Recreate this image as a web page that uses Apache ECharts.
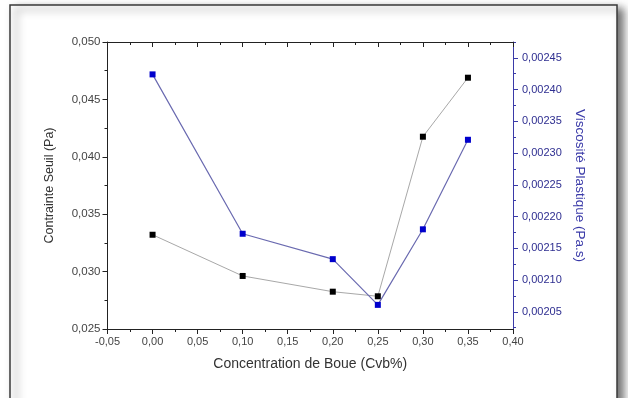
<!DOCTYPE html>
<html>
<head>
<meta charset="utf-8">
<script src="https://cdn.jsdelivr.net/npm/echarts@6/dist/echarts.min.js"></script>
<style>
  html, body { margin: 0; padding: 0; background: #fff; }
  #chart { width: 628px; height: 398px; }
</style>
</head>
<body>
<div id="chart"></div>
<script>
// Concentration de boue (Cvb%)
const concentration = [0.0, 0.10, 0.20, 0.25, 0.30, 0.35];
// Contrainte seuil (Pa), left axis
const contrainteSeuil = [0.03321, 0.02962, 0.02825, 0.02785, 0.04175, 0.04689];
// Viscosite plastique (Pa.s), right axis
const viscosite = [0.002424, 0.002173, 0.002133, 0.002061, 0.00218, 0.002321];
// Right axis tick labels
const viscoTicks = [0.00205, 0.00210, 0.00215, 0.00220, 0.00225, 0.00230, 0.00235, 0.00240, 0.00245];
const viscoMinor = [0.002025, 0.002075, 0.002125, 0.002175, 0.002225, 0.002275, 0.002325, 0.002375, 0.002425, 0.002475];

const FONT = "Liberation Sans";
const BLUE_AXIS = "#3a3aa8";
const VISCO_MIN = 0.002023;
const VISCO_MAX = 0.002475;
const comma = (v, d) => v.toFixed(d).replace(".", ",");

const chart = echarts.init(document.getElementById("chart"));

const gridBox = { left: 107.5, right: 115, top: 42, bottom: 69, containLabel: false };

const xCommon = {
  type: "value",
  gridIndex: 0,
  min: -0.05,
  max: 0.40,
  interval: 0.05,
  splitLine: { show: false },
  axisLine: { onZero: false, lineStyle: { color: "#222", width: 1 } },
  minorTick: { show: true, splitNumber: 2, length: 3, lineStyle: { color: "#222" } },
};

chart.setOption({
  animation: false,
  backgroundColor: "#fff",
  textStyle: { fontFamily: FONT },
  graphic: [
    {
      type: "rect",
      z: -1,
      shape: { x: 10, y: 5, width: 607, height: 410 },
      style: {
        fill: "#fff",
        stroke: "#3a3a3a",
        lineWidth: 1.5,
        shadowBlur: 8,
        shadowOffsetX: 6,
        shadowOffsetY: 4,
        shadowColor: "rgba(0,0,0,0.55)",
      },
    },
  ],
  grid: [gridBox, { ...gridBox }],
  xAxis: [
    {
      ...xCommon,
      position: "bottom",
      name: "Concentration de Boue (Cvb%)",
      nameLocation: "middle",
      nameGap: 28,
      nameTextStyle: { fontSize: 14, color: "#333", fontFamily: FONT },
      axisTick: { length: 5, lineStyle: { color: "#222" } },
      axisLabel: {
        fontSize: 11,
        color: "#444",
        margin: 7,
        formatter: (v) => comma(v, 2),
      },
    },
    {
      ...xCommon,
      position: "top",
      axisTick: { inside: true, length: 5, lineStyle: { color: "#222" } },
      axisLabel: { show: false },
    },
    // helper axis for the second (overlay) grid
    { type: "value", gridIndex: 1, min: -0.05, max: 0.40, show: false },
  ],
  yAxis: [
    {
      type: "value",
      gridIndex: 0,
      position: "left",
      min: 0.025,
      max: 0.050,
      interval: 0.005,
      name: "Contrainte Seuil (Pa)",
      nameLocation: "middle",
      nameGap: 51,
      nameTextStyle: { fontSize: 12.5, color: "#333", fontFamily: FONT },
      splitLine: { show: false },
      axisLine: { show: true, onZero: false, lineStyle: { color: "#222" } },
      axisTick: { length: 5, lineStyle: { color: "#222" } },
      minorTick: { show: true, splitNumber: 2, length: 3, lineStyle: { color: "#222" } },
      axisLabel: {
        fontSize: 11.5,
        color: "#444",
        margin: 7,
        formatter: (v) => comma(v, 3),
      },
    },
    {
      type: "value",
      gridIndex: 0,
      position: "right",
      min: VISCO_MIN,
      max: VISCO_MAX,
      name: "Viscosité Plastique (Pa.s)",
      nameLocation: "middle",
      nameRotate: -90,
      nameGap: 57,
      nameTextStyle: { fontSize: 13.5, color: BLUE_AXIS, fontFamily: FONT },
      splitLine: { show: false },
      axisLine: { show: true, onZero: false, lineStyle: { color: BLUE_AXIS } },
      axisTick: { show: true, length: 5, customValues: viscoTicks, lineStyle: { color: BLUE_AXIS } },
      axisLabel: {
        fontSize: 11,
        color: "#2e2e90",
        margin: 9,
        customValues: viscoTicks,
        formatter: (v) => comma(v, 5),
      },
    },
    // minor ticks of the right axis, on the overlay grid
    {
      type: "value",
      gridIndex: 1,
      position: "right",
      min: VISCO_MIN,
      max: VISCO_MAX,
      splitLine: { show: false },
      axisLine: { show: false, onZero: false },
      axisTick: { show: true, length: 3, customValues: viscoMinor, lineStyle: { color: BLUE_AXIS } },
      axisLabel: { show: false },
    },
  ],
  series: [
    {
      name: "Contrainte Seuil",
      type: "line",
      xAxisIndex: 0,
      yAxisIndex: 0,
      data: concentration.map((c, i) => [c, contrainteSeuil[i]]),
      symbol: "rect",
      symbolSize: 6,
      lineStyle: { color: "#a8a8a8", width: 1 },
      itemStyle: { color: "#000" },
      z: 3,
    },
    {
      name: "Viscosité Plastique",
      type: "line",
      xAxisIndex: 0,
      yAxisIndex: 1,
      data: concentration.map((c, i) => [c, viscosite[i]]),
      symbol: "rect",
      symbolSize: 6,
      lineStyle: { color: "#6a6ab0", width: 1.2 },
      itemStyle: { color: "#0000cc" },
      z: 4,
    },
  ],
});
</script>
</body>
</html>
